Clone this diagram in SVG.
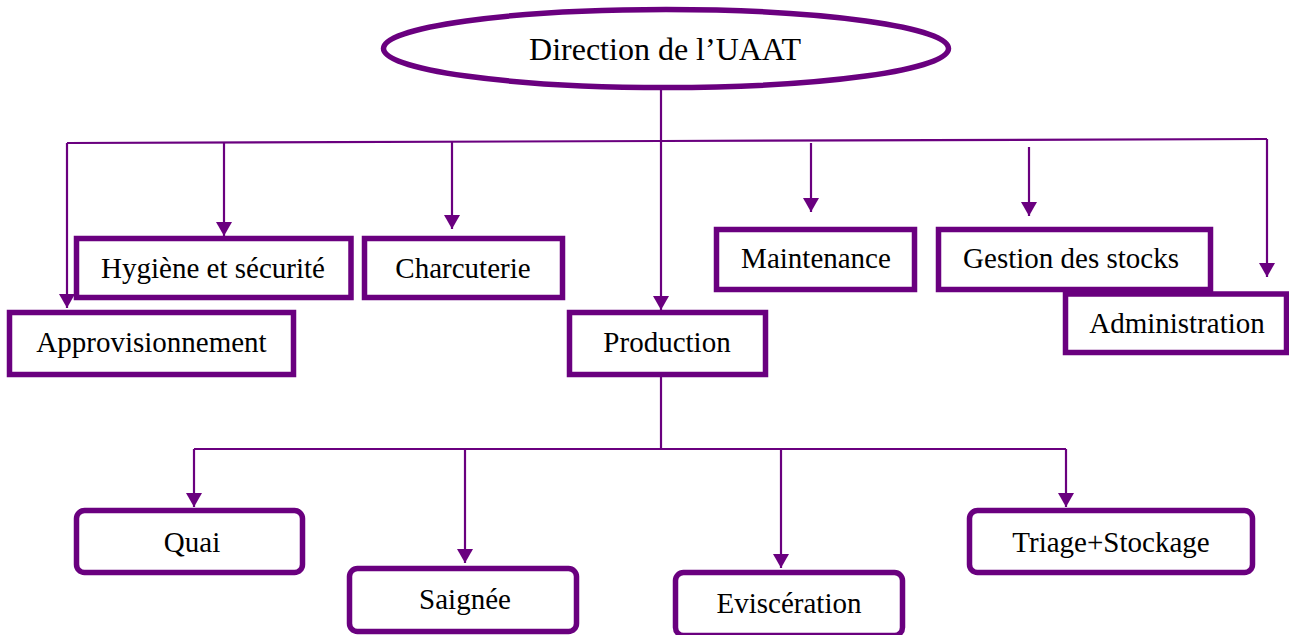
<svg xmlns="http://www.w3.org/2000/svg" width="1289" height="635" viewBox="0 0 1289 635">
<style>
.box{fill:#fff;stroke:#6a007f;stroke-width:5.5}
.lbl{font-family:"Liberation Serif","Times New Roman",serif;font-size:29px;fill:#000;text-anchor:middle}
.conn{fill:none;stroke:#6a007f;stroke-width:2.2}
</style>
<defs>
<marker id="arr" viewBox="0 0 14 16" refX="14" refY="8" markerWidth="14" markerHeight="16" markerUnits="userSpaceOnUse" orient="auto">
<path d="M0,0 L14,8 L0,16 z" fill="#6a007f"/>
</marker>
</defs>
<rect width="1289" height="635" fill="#fff"/>
<g id="connectors">
<path class="conn" d="M661,90 V310" marker-end="url(#arr)"/>
<path class="conn" d="M67,143 L661,141 L1267,139"/>
<path class="conn" d="M67,143 V308" marker-end="url(#arr)"/>
<path class="conn" d="M224,142.5 V236" marker-end="url(#arr)"/>
<path class="conn" d="M452,142 V229" marker-end="url(#arr)"/>
<path class="conn" d="M811,143 V212" marker-end="url(#arr)"/>
<path class="conn" d="M1029,147 V216" marker-end="url(#arr)"/>
<path class="conn" d="M1267,139 V277" marker-end="url(#arr)"/>
<path class="conn" d="M661,377 V449"/>
<path class="conn" d="M194,449 H1066"/>
<path class="conn" d="M194,449 V507" marker-end="url(#arr)"/>
<path class="conn" d="M465,449 V563" marker-end="url(#arr)"/>
<path class="conn" d="M781,449 V568" marker-end="url(#arr)"/>
<path class="conn" d="M1066,449 V507" marker-end="url(#arr)"/>
</g>
<g id="direction">
<ellipse cx="666" cy="48.5" rx="282.5" ry="39" fill="#fff" stroke="#6a007f" stroke-width="5.5"/>
<text class="lbl" x="665" y="60" style="font-size:32px">Direction de l’UAAT</text>
</g>
<g id="hygiene">
<rect class="box" x="76.5" y="238.5" width="274.5" height="59"/>
<text class="lbl" x="213" y="278">Hygiène et sécurité</text>
</g>
<g id="charcuterie">
<rect class="box" x="364.5" y="238.5" width="198" height="59"/>
<text class="lbl" x="463" y="278">Charcuterie</text>
</g>
<g id="approvisionnement">
<rect class="box" x="9.5" y="312.5" width="284" height="62"/>
<text class="lbl" x="151.5" y="352">Approvisionnement</text>
</g>
<g id="production">
<rect class="box" x="569.5" y="312.5" width="196" height="62"/>
<text class="lbl" x="667" y="352">Production</text>
</g>
<g id="maintenance">
<rect class="box" x="716.5" y="229.5" width="198" height="60"/>
<text class="lbl" x="816" y="268">Maintenance</text>
</g>
<g id="gestion">
<rect class="box" x="938.5" y="229.5" width="272" height="60"/>
<text class="lbl" x="1071" y="268">Gestion des stocks</text>
</g>
<g id="administration">
<rect class="box" x="1065.5" y="294" width="221" height="58.5"/>
<text class="lbl" x="1177" y="333">Administration</text>
</g>
<g id="quai">
<rect class="box" x="76.5" y="510.5" width="226" height="62" rx="8"/>
<text class="lbl" x="192" y="552">Quai</text>
</g>
<g id="saignee">
<rect class="box" x="349.5" y="568.5" width="227" height="63" rx="8"/>
<text class="lbl" x="465" y="609">Saignée</text>
</g>
<g id="evisceration">
<rect class="box" x="675.5" y="572.5" width="227" height="63" rx="8"/>
<text class="lbl" x="789" y="613">Eviscération</text>
</g>
<g id="triage">
<rect class="box" x="969.5" y="510.5" width="283" height="62" rx="8"/>
<text class="lbl" x="1111" y="552">Triage+Stockage</text>
</g>
</svg>
